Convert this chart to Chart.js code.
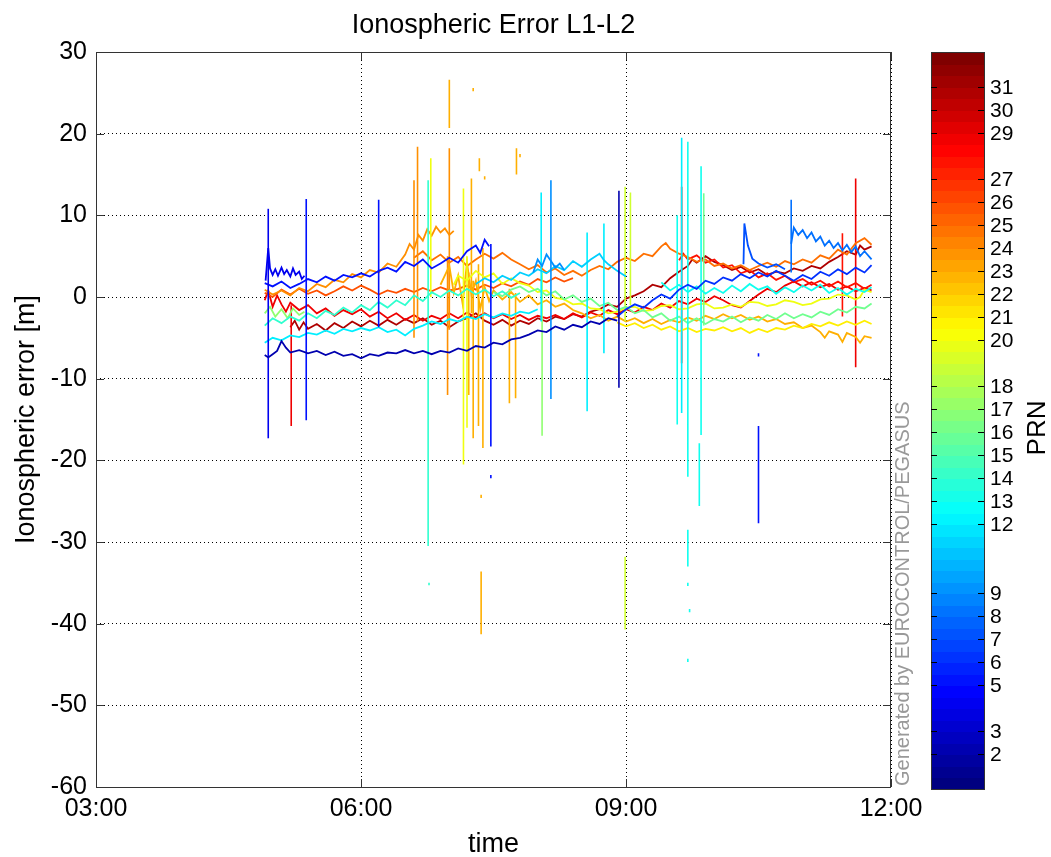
<!DOCTYPE html>
<html>
<head>
<meta charset="utf-8">
<script src="https://cdn.jsdelivr.net/npm/chart.js@4.4.1/dist/chart.umd.min.js"></script>
<style>
html, body { margin: 0; padding: 0; background: #fff; }
</style>
</head>
<body>
<canvas id="myChart" width="1051" height="857"></canvas>
<script>

// time axis in hours (03:00 .. 12:00), values in metres
const xTicks = [3, 6, 9, 12];
const yTicks = [30, 20, 10, 0, -10, -20, -30, -40, -50, -60];
const cbTicks = [2, 3, 5, 6, 7, 8, 9, 12, 13, 14, 15, 16, 17, 18, 20, 21, 22, 23, 24, 25, 26, 27, 29, 30, 31];

// tracks: time, value, time, value ...
const prn02 = [4.91,-7.1, 4.95,-7.4, 5.0,-7.0, 5.05,-6.6, 5.1,-5.4, 5.15,-6.2, 5.2,-6.8, 5.3,-6.5, 5.4,-6.9, 5.5,-6.6, 5.6,-7.1, 5.7,-6.7, 5.8,-7.2, 5.9,-7.0, 6.0,-7.5, 6.1,-7.0, 6.2,-7.2, 6.3,-6.8, 6.4,-6.9, 6.5,-6.5, 6.6,-6.9, 6.7,-6.6, 6.8,-7.0, 6.9,-6.6, 7.0,-6.8, 7.1,-6.3, 7.2,-6.6, 7.3,-6.0, 7.4,-6.2, 7.5,-5.6, 7.6,-5.8, 7.7,-5.2, 7.8,-5.0, 7.9,-4.6, 8.0,-4.1, 8.1,-4.3, 8.2,-3.6, 8.3,-4.0, 8.4,-3.4, 8.5,-3.7, 8.6,-3.0, 8.7,-3.3, 8.8,-2.6, 8.9,-2.9];
const prn04 = [4.92,2.0, 4.95,6.0, 4.97,3.5, 5.0,2.7, 5.03,3.4, 5.06,2.6, 5.1,3.6, 5.13,2.8, 5.16,3.3, 5.2,2.5, 5.23,3.5, 5.26,2.7, 5.3,3.1, 5.33,2.2, 5.36,2.6];
const prn05 = [4.91,1.7, 5.0,1.3, 5.1,1.9, 5.2,1.1, 5.3,1.6, 5.4,2.2, 5.5,1.8, 5.6,2.5, 5.7,2.0, 5.8,2.7, 5.9,2.4, 6.0,2.9, 6.1,2.5, 6.2,3.2, 6.3,3.6, 6.4,3.1, 6.5,4.3, 6.6,3.8, 6.7,4.6, 6.8,3.5, 6.9,4.1, 7.0,4.8, 7.1,4.2, 7.2,5.6, 7.3,6.3, 7.35,5.4, 7.4,7.0, 7.45,6.2];
const prn06 = [8.9,-2.4, 9.0,-1.5, 9.1,-0.9, 9.2,-1.3, 9.3,-0.4, 9.4,0.3, 9.5,-0.2, 9.6,0.9, 9.7,1.5, 9.8,1.0, 9.9,2.0, 10.0,1.6, 10.1,2.4, 10.2,2.0, 10.3,2.8, 10.4,2.3, 10.5,3.0, 10.6,2.5, 10.7,3.2, 10.8,2.6, 10.9,2.0, 11.0,2.7, 11.1,2.2, 11.2,3.1, 11.3,2.6, 11.4,3.4, 11.5,2.8, 11.6,3.6, 11.7,3.0, 11.78,3.9];
const prn07 = [10.33,4.0, 10.34,9.0, 10.38,6.3, 10.43,4.7, 10.5,4.1, 10.6,3.6, 10.7,4.0, 10.8,3.4];
const prn08 = [10.87,6.5, 10.9,8.5, 10.95,7.6, 11.0,8.2, 11.05,7.2, 11.1,7.9, 11.15,6.8, 11.2,7.4, 11.25,6.3, 11.3,6.9, 11.35,6.0, 11.4,6.6, 11.45,5.7, 11.5,6.4, 11.55,5.5, 11.6,6.2, 11.65,5.0, 11.7,5.6, 11.78,4.6];
const prn09 = [7.95,3.0, 8.0,4.6, 8.05,3.8, 8.1,5.2, 8.15,4.4, 8.2,3.6, 8.25,4.1, 8.3,3.3];
const prn11 = [7.3,1.6, 7.4,2.3, 7.5,1.8, 7.6,2.6, 7.7,2.1, 7.8,3.0, 7.9,2.6, 8.0,3.4, 8.1,2.9, 8.2,3.8, 8.3,3.3, 8.4,4.4, 8.5,3.7, 8.6,4.6, 8.7,5.3, 8.75,4.5, 8.8,4.0, 8.9,3.2, 9.0,2.5];
const prn12 = [4.91,-5.6, 5.0,-5.0, 5.1,-5.3, 5.2,-4.7, 5.3,-4.9, 5.4,-4.4, 5.5,-4.6, 5.6,-4.1, 5.7,-4.5, 5.8,-3.9, 5.9,-4.2, 6.0,-3.8, 6.1,-4.1, 6.2,-3.7, 6.3,-4.3, 6.4,-4.0, 6.5,-4.7, 6.6,-3.9, 6.7,-3.5, 6.8,-3.0, 6.9,-3.3, 7.0,-2.7, 7.1,-3.0, 7.2,-2.4, 7.3,-2.7, 7.4,-2.1, 7.5,-2.5, 7.6,-2.0, 7.7,-2.3, 7.8,-1.8, 7.9,-2.0, 8.0,-1.5];
const prn13 = [9.4,1.8, 9.5,0.8, 9.6,1.5, 9.7,0.6, 9.8,1.3, 9.9,0.4, 10.0,1.1, 10.1,0.5, 10.2,1.4, 10.3,0.7, 10.4,1.6, 10.5,0.9, 10.6,1.3, 10.7,0.4, 10.8,1.2, 10.9,0.6, 11.0,1.4, 11.1,0.8, 11.2,1.5, 11.3,0.5, 11.4,1.1, 11.5,0.3, 11.6,1.0, 11.7,0.6, 11.78,1.2];
const prn14 = [4.91,-3.5, 5.0,-2.6, 5.1,-3.2, 5.2,-2.4, 5.3,-2.9, 5.4,-2.0, 5.5,-2.6, 5.6,-1.7, 5.7,-2.2, 5.8,-1.3, 5.9,-1.9, 6.0,-1.0, 6.1,-1.6, 6.2,-0.6, 6.3,-1.3, 6.4,-0.4, 6.5,-1.0, 6.6,0.2, 6.7,-0.5, 6.8,0.6, 6.9,0.0, 7.0,0.8, 7.1,0.2, 7.2,1.0, 7.3,0.3, 7.4,0.9, 7.5,0.1, 7.6,0.7, 7.7,-0.1, 7.8,0.5];
const prn16 = [7.5,0.6, 7.6,0.1, 7.7,0.9, 7.8,1.3, 7.9,0.6, 8.0,1.0, 8.1,0.2, 8.2,0.7, 8.3,-0.3, 8.4,0.2, 8.5,-0.6, 8.6,-0.2, 8.7,-1.1, 8.8,-0.7, 8.9,-1.6, 9.0,-1.2, 9.1,-2.0, 9.2,-1.6, 9.3,-2.5, 9.4,-2.0, 9.5,-2.9, 9.6,-2.4, 9.7,-3.2, 9.8,-2.6, 9.9,-3.3, 10.0,-2.7, 10.1,-3.0, 10.2,-2.4, 10.3,-3.1, 10.4,-2.5, 10.5,-2.9, 10.6,-2.2, 10.7,-2.7, 10.8,-2.0, 10.9,-2.6, 11.0,-2.1, 11.1,-2.5, 11.2,-1.8, 11.3,-2.2, 11.4,-1.5, 11.5,-1.9, 11.6,-1.2, 11.7,-1.4, 11.78,-0.8];
const prn17 = [4.91,-2.0, 4.97,-1.2, 5.03,-2.4, 5.1,-1.5, 5.17,-2.6, 5.23,-1.4, 5.3,-2.2, 5.36,-1.8];
const prn20 = [7.05,1.5, 7.1,2.6, 7.2,2.0, 7.3,3.2, 7.4,2.4, 7.5,2.9, 7.6,1.6, 7.7,2.3, 7.8,1.7, 7.9,1.4, 8.0,0.6, 8.1,0.8, 8.2,-0.1, 8.3,-0.3, 8.4,-0.9, 8.5,-0.8, 8.6,-1.4, 8.7,-1.5, 8.8,-2.0, 8.9,-1.8, 9.0,-1.3, 9.1,-1.2, 9.2,-1.7, 9.3,-1.6, 9.4,-1.1, 9.5,-1.0, 9.6,-1.5, 9.7,-1.4, 9.8,-0.9, 9.9,-0.8, 10.0,-1.4, 10.1,-1.3, 10.2,-0.9, 10.3,-1.2, 10.4,-0.6, 10.5,-0.7, 10.6,-1.1, 10.7,-0.9, 10.8,-0.4, 10.9,-0.6, 11.0,-1.0, 11.1,-0.8, 11.2,-0.3, 11.3,-0.2, 11.4,0.3, 11.5,0.2, 11.6,-0.3, 11.65,0.0, 11.7,0.9, 11.78,0.6];
const prn21 = [8.9,-3.1, 9.0,-3.6, 9.1,-3.2, 9.2,-3.8, 9.3,-3.4, 9.4,-4.0, 9.5,-3.6, 9.6,-4.2, 9.7,-3.8, 9.8,-4.3, 9.9,-3.9, 10.0,-4.1, 10.1,-3.7, 10.2,-4.2, 10.3,-3.8, 10.4,-4.4, 10.5,-3.9, 10.6,-4.3, 10.7,-3.8, 10.8,-4.0, 10.9,-3.5, 11.0,-3.8, 11.1,-3.3, 11.2,-3.6, 11.3,-3.1, 11.4,-3.5, 11.5,-3.0, 11.6,-3.4, 11.7,-2.9, 11.78,-3.3];
const prn23 = [6.9,1.5, 7.0,3.8, 7.05,0.5, 7.1,2.6, 7.15,-0.8, 7.2,4.2, 7.25,0.3, 7.3,2.0, 7.35,-1.5, 7.4,1.2, 7.45,-0.5, 7.5,0.8, 7.6,-0.3, 7.7,0.6, 7.8,-0.6, 7.9,0.2, 8.0,-0.9, 8.1,-0.4, 8.2,-1.2, 8.3,-0.8, 8.4,-1.6, 8.5,-2.0, 8.6,-2.6, 8.7,-2.2, 8.8,-2.9, 8.9,-2.4, 9.0,-3.0, 9.1,-2.6, 9.2,-3.2, 9.3,-2.7, 9.4,-3.3, 9.5,-2.8, 9.6,-3.1, 9.7,-2.5, 9.8,-2.9, 9.9,-2.3, 10.0,-2.7, 10.1,-2.1, 10.2,-2.6, 10.3,-2.2, 10.4,-2.8, 10.5,-2.4, 10.6,-3.0, 10.7,-2.7, 10.8,-3.3, 10.9,-3.1, 11.0,-3.8, 11.1,-3.5, 11.2,-4.3, 11.25,-5.0, 11.3,-4.2, 11.4,-4.6, 11.45,-5.5, 11.5,-4.4, 11.6,-4.9, 11.65,-5.6, 11.7,-4.8, 11.78,-5.0];
const prn24 = [4.91,0.9, 5.0,0.3, 5.1,0.8, 5.2,0.2, 5.3,1.1, 5.4,0.7, 5.5,1.6, 5.6,1.2, 5.7,2.1, 5.8,1.8, 5.9,2.8, 6.0,2.4, 6.1,3.3, 6.2,3.0, 6.3,4.1, 6.4,3.7, 6.5,5.2, 6.55,6.5, 6.6,5.8, 6.65,7.6, 6.7,6.9, 6.75,8.3, 6.8,7.5, 6.85,8.6, 6.9,7.9, 6.95,8.4, 7.0,7.6, 7.05,8.1];
const prn25 = [6.6,4.8, 6.7,5.6, 6.8,4.5, 6.9,5.2, 7.0,4.2, 7.1,4.9, 7.2,3.8, 7.3,4.6, 7.4,5.3, 7.5,4.7, 7.6,5.4, 7.7,4.6, 7.8,4.0, 7.9,3.4, 8.0,3.9, 8.1,3.0, 8.2,3.5, 8.3,2.7, 8.4,3.2, 8.5,2.6, 8.6,3.3, 8.7,3.8, 8.8,3.4, 8.9,4.3, 9.0,4.8, 9.1,4.4, 9.2,5.3, 9.3,5.0, 9.4,6.2, 9.45,6.6, 9.5,5.9, 9.6,5.3, 9.7,4.9, 9.8,4.3, 9.9,4.6, 10.0,3.8, 10.1,4.1, 10.2,3.5, 10.3,3.9, 10.4,3.3, 10.5,3.8, 10.6,4.2, 10.7,3.7, 10.8,4.4, 10.9,4.0, 11.0,4.6, 11.1,4.2, 11.2,5.1, 11.3,4.7, 11.4,5.8, 11.5,5.2, 11.6,6.6, 11.7,7.2, 11.78,6.4];
const prn26 = [4.91,0.5, 5.0,0.0, 5.1,0.9, 5.2,0.3, 5.3,1.0, 5.4,0.4, 5.5,0.8, 5.6,0.2, 5.7,0.7, 5.8,1.3, 5.9,0.8, 6.0,1.4, 6.1,0.9, 6.2,0.3, 6.3,0.8, 6.4,0.5, 6.5,1.0, 6.6,0.6, 6.7,1.1, 6.8,0.7, 6.9,1.2, 7.0,0.8, 7.1,1.0, 7.2,1.4, 7.3,0.9, 7.4,1.5, 7.5,1.1, 7.6,1.7, 7.7,1.3, 7.8,1.9, 7.9,1.5, 8.0,2.2, 8.1,1.8, 8.2,2.4, 8.3,1.9, 8.4,2.3];
const prn28 = [9.6,4.5, 9.65,5.3, 9.7,4.6, 9.8,5.1, 9.9,4.2, 10.0,4.6, 10.1,3.6, 10.2,3.9, 10.3,2.9, 10.4,3.3, 10.5,2.4, 10.6,2.9, 10.7,2.1, 10.8,2.6, 10.9,1.8, 11.0,2.2, 11.1,1.5, 11.2,2.0, 11.3,1.3, 11.4,1.9, 11.5,1.2, 11.6,1.7, 11.7,1.0, 11.78,1.5];
const prn29 = [4.91,-0.4, 4.95,0.8, 5.0,-1.2, 5.05,0.2, 5.1,-0.9, 5.15,-1.8, 5.2,-0.7, 5.3,-1.6, 5.4,-1.0, 5.5,-2.0, 5.6,-1.4, 5.7,-2.3, 5.8,-1.6, 5.9,-2.1, 6.0,-1.5, 6.1,-2.4, 6.2,-1.8, 6.3,-2.6, 6.4,-2.0, 6.5,-2.8, 6.6,-2.2, 6.7,-2.9, 6.8,-2.3, 6.9,-2.7, 7.0,-2.0, 7.1,-2.6, 7.2,-1.9, 7.3,-2.5, 7.4,-2.0, 7.5,-2.6, 7.6,-2.1, 7.7,-2.7, 7.8,-2.2, 7.9,-2.8, 8.0,-2.3, 8.1,-2.6, 8.2,-2.2, 8.3,-2.7, 8.4,-2.0, 8.5,-2.5, 8.6,-1.9, 8.7,-2.3, 8.8,-1.6, 8.9,-2.1, 9.0,-1.5, 9.1,-1.9, 9.2,-1.2, 9.3,-1.6, 9.4,-0.8, 9.5,-1.3, 9.6,-0.5, 9.7,-0.9, 9.8,-0.2, 9.9,-0.6, 10.0,0.1, 10.1,-0.4, 10.2,-1.0, 10.3,-1.3, 10.4,-0.5, 10.5,0.3, 10.6,1.0, 10.7,0.6, 10.8,1.4, 10.9,1.9, 11.0,1.3, 11.1,1.8, 11.2,1.2, 11.3,1.6, 11.4,0.9, 11.5,1.3, 11.6,0.7, 11.7,1.1, 11.78,0.8];
const prn31 = [5.2,-3.7, 5.25,-2.9, 5.3,-4.0, 5.35,-3.1, 5.4,-3.9, 5.5,-3.3, 5.6,-4.1, 5.7,-3.2, 5.8,-3.8, 5.9,-3.0, 6.0,-3.6, 6.1,-2.9, 6.2,-3.5, 6.3,-2.8, 6.4,-3.4, 6.5,-2.7, 6.6,-3.2, 6.7,-2.6, 6.8,-3.4, 6.9,-2.9, 7.0,-3.7, 7.1,-3.0, 7.2,-2.6, 7.3,-2.0, 7.4,-2.9, 7.5,-3.4, 7.6,-2.8, 7.7,-3.5, 7.8,-2.9, 7.9,-3.3, 8.0,-2.6, 8.1,-3.0, 8.2,-2.4, 8.3,-2.7, 8.4,-2.1, 8.5,-2.4, 8.6,-1.8, 8.7,-1.5, 8.8,-0.9, 8.9,-1.2, 9.0,-0.2, 9.1,0.2, 9.2,0.7, 9.3,1.5, 9.4,1.2, 9.5,2.3, 9.6,3.1, 9.7,3.8, 9.75,4.6, 9.8,4.2, 9.9,5.0, 10.0,4.3, 10.1,3.9, 10.2,3.3, 10.3,3.7, 10.4,3.0, 10.5,3.4, 10.6,2.7, 10.7,3.1, 10.8,2.9, 10.9,3.5, 11.0,3.2, 11.1,3.8, 11.2,3.5, 11.3,4.3, 11.4,4.9, 11.5,5.6, 11.6,5.2, 11.65,6.3, 11.7,5.8, 11.78,6.2];

// spikes: time, low, high ...
const spikes02 = [8.92,-11.1,13.0];
const spikes04 = [4.95,-17.3,10.8];
const spikes05 = [5.38,-15.1,12.0, 6.2,-3.7,11.9, 7.47,-18.3,6.5, 7.47,-22.2,-21.8, 10.5,-27.7,-15.8, 10.5,-7.3,-6.9];
const spikes08 = [10.87,3.0,11.9];
const spikes09 = [8.15,-12.5,14.3];
const spikes12 = [8.04,-3.0,12.8, 8.56,-14.0,7.9, 8.75,-6.9,9.0, 9.63,-14.2,19.5];
const spikes13 = [9.58,-15.6,10.0, 9.7,-22.0,19.0, 9.7,-33.0,-28.5, 9.7,-35.4,-35.0, 9.7,-44.7,-44.3, 9.72,-38.6,-38.2, 9.83,-25.6,-17.9, 9.85,-16.9,16.0];
const spikes14 = [6.76,-30.5,14.3, 6.77,-35.3,-35.0];
const spikes16 = [9.88,-3.5,12.7];
const spikes17 = [8.05,-17.0,3.0];
const spikes19 = [8.99,-40.7,-31.8, 8.99,-3.0,13.5, 9.05,-1.0,12.8];
const spikes20 = [6.79,0.0,17.0, 7.16,-20.5,13.3, 7.2,-16.0,5.0];
const spikes23 = [7.0,20.7,26.6, 7.25,-2.0,14.5, 7.34,15.4,17.0, 7.27,25.2,25.6, 7.4,14.4,14.8, 7.76,15.0,18.2, 7.8,17.1,17.5, 7.22,-12.0,3.0, 7.27,-17.3,2.0, 7.33,-15.8,4.0, 7.38,-18.5,6.0, 7.36,-41.3,-33.6, 7.36,-24.6,-24.2, 7.68,-13.0,1.0, 7.75,-12.4,0.5];
const spikes24 = [6.6,-5.0,14.3, 6.64,-3.0,18.4, 7.0,-4.0,18.2, 6.98,-12.0,5.0];
const spikes28 = [9.63,-8.1,13.5, 11.45,-2.4,7.8];
const spikes29 = [5.21,-15.8,-1.0, 11.6,-8.6,14.5];

const tracks = [
    [2, prn02, spikes02], [4, prn04, spikes04], [5, prn05, spikes05], [6, prn06, []],
    [7, prn07, []], [8, prn08, spikes08], [9, prn09, spikes09], [11, prn11, []],
    [12, prn12, spikes12], [13, prn13, spikes13], [14, prn14, spikes14], [16, prn16, spikes16],
    [17, prn17, spikes17], [19, [], spikes19], [20, prn20, spikes20], [21, prn21, []],
    [23, prn23, spikes23], [24, prn24, spikes24], [25, prn25, []], [26, prn26, []],
    [28, prn28, spikes28], [29, prn29, spikes29], [31, prn31, []]
];

function clamp(v) { return Math.max(0, Math.min(1, v)); }

function jet(v) {
    let r = clamp(1.5 - Math.abs(4 * v - 3));
    let g = clamp(1.5 - Math.abs(4 * v - 2));
    let b = clamp(1.5 - Math.abs(4 * v - 1));
    return 'rgb(' + Math.round(r * 255) + ',' + Math.round(g * 255) + ',' + Math.round(b * 255) + ')';
}

function prnColor(prn) {
    return jet((prn - 0.5) / 32);
}

function pairs(a) {
    let out = [];
    for (let i = 0; i < a.length; i += 2) out.push({ x: a[i], y: a[i + 1] });
    return out;
}

function segs(a) {
    let out = [];
    for (let i = 0; i < a.length; i += 3) {
        out.push({ x: a[i], y: a[i + 1] }, { x: a[i], y: a[i + 2] }, { x: a[i], y: null });
    }
    return out;
}

let datasets = [];
tracks.forEach(function (t) {
    let col = prnColor(t[0]);
    if (t[2].length) {
        datasets.push({ data: segs(t[2]), borderColor: col, borderWidth: 1.6, pointRadius: 0, spanGaps: false });
    }
    if (t[1].length) {
        datasets.push({ data: pairs(t[1]), borderColor: col, borderWidth: 1.8, pointRadius: 0, spanGaps: false });
    }
});

const FONT = "'Liberation Sans', Arial, sans-serif";

// plot box: x 96..891, y 52..787
const extras = {
    id: 'extras',
    afterDraw(chart) {
        const ctx = chart.ctx;
        const a = chart.chartArea;
        const xs = chart.scales.x, ys = chart.scales.y;
        ctx.save();

        // box and inward ticks
        ctx.strokeStyle = '#333';
        ctx.lineWidth = 1;
        ctx.strokeRect(a.left + 0.5, a.top + 0.5, a.right - a.left - 1, a.bottom - a.top);
        ctx.beginPath();
        xTicks.forEach(function (v) {
            let px = Math.round(xs.getPixelForValue(v)) + 0.5;
            ctx.moveTo(px, a.bottom); ctx.lineTo(px, a.bottom - 8);
            ctx.moveTo(px, a.top); ctx.lineTo(px, a.top + 8);
        });
        yTicks.forEach(function (v) {
            let py = Math.round(ys.getPixelForValue(v)) + 0.5;
            ctx.moveTo(a.left, py); ctx.lineTo(a.left + 8, py);
            ctx.moveTo(a.right, py); ctx.lineTo(a.right - 8, py);
        });
        ctx.stroke();

        // title and axis labels
        ctx.fillStyle = '#000';
        ctx.textAlign = 'center';
        ctx.textBaseline = 'alphabetic';
        ctx.font = '27px ' + FONT;
        ctx.fillText('Ionospheric Error L1-L2', (a.left + a.right) / 2, 33);
        ctx.fillText('time', (a.left + a.right) / 2, 852);
        ctx.save();
        ctx.translate(27, (a.top + a.bottom) / 2);
        ctx.rotate(-Math.PI / 2);
        ctx.textBaseline = 'middle';
        ctx.fillText('Ionospheric error [m]', 0, 0);
        ctx.restore();

        // generated-by note
        ctx.save();
        ctx.translate(903, a.bottom - 1);
        ctx.rotate(-Math.PI / 2);
        ctx.fillStyle = '#999';
        ctx.font = '20px ' + FONT;
        ctx.textAlign = 'left';
        ctx.textBaseline = 'middle';
        ctx.fillText('Generated by EUROCONTROL/PEGASUS', 0, 0);
        ctx.restore();

        // colorbar
        const cbL = 931, cbR = 984, cbT = 52, cbB = 789;
        const n = 64;
        for (let i = 0; i < n; i++) {
            let y0 = cbB - (i + 1) * (cbB - cbT) / n;
            ctx.fillStyle = jet(i / (n - 1));
            ctx.fillRect(cbL, Math.floor(y0), cbR - cbL, Math.ceil((cbB - cbT) / n) + 1);
        }
        ctx.strokeStyle = '#333';
        ctx.strokeRect(cbL + 0.5, cbT + 0.5, cbR - cbL, cbB - cbT);
        ctx.beginPath();
        ctx.fillStyle = '#000';
        ctx.font = '21px ' + FONT;
        ctx.textAlign = 'left';
        ctx.textBaseline = 'middle';
        cbTicks.forEach(function (k) {
            let py = Math.round(cbB - (k - 0.5) * (cbB - cbT) / 32) + 0.5;
            ctx.moveTo(cbL, py); ctx.lineTo(cbL + 6, py);
            ctx.moveTo(cbR, py); ctx.lineTo(cbR - 6, py);
            ctx.fillText(String(k), 990, py + 1);
        });
        ctx.strokeStyle = '#000';
        ctx.stroke();

        ctx.save();
        ctx.translate(1038, 428);
        ctx.rotate(-Math.PI / 2);
        ctx.font = '26px ' + FONT;
        ctx.textAlign = 'center';
        ctx.textBaseline = 'middle';
        ctx.fillText('PRN', 0, 0);
        ctx.restore();

        ctx.restore();
    }
};

const ctx = document.getElementById('myChart').getContext('2d');
const myChart = new Chart(ctx, {
    type: 'line',
    data: { datasets: datasets },
    options: {
        responsive: false,
        animation: false,
        layout: { padding: { left: 0, top: 52, right: 160, bottom: 0 } },
        plugins: { legend: { display: false }, tooltip: { enabled: false } },
        scales: {
            x: {
                type: 'linear',
                min: 3,
                max: 12,
                afterFit: function (s) { s.height = 70; },
                afterBuildTicks: function (s) { s.ticks = xTicks.map(function (v) { return { value: v }; }); },
                grid: { color: '#000', lineWidth: 1, drawTicks: false },
                border: { display: false, dash: [1, 3] },
                ticks: {
                    padding: 7,
                    color: '#000',
                    font: { family: FONT, size: 25 },
                    maxRotation: 0,
                    callback: function (v) { return (v < 10 ? '0' : '') + v + ':00'; }
                }
            },
            y: {
                min: -60,
                max: 30,
                afterFit: function (s) { s.width = 96; },
                afterBuildTicks: function (s) { s.ticks = yTicks.map(function (v) { return { value: v }; }); },
                grid: { color: '#000', lineWidth: 1, drawTicks: false },
                border: { display: false, dash: [1, 3] },
                ticks: {
                    padding: 9,
                    color: '#000',
                    font: { family: FONT, size: 25 }
                }
            }
        }
    },
    plugins: [extras]
});
</script>
</body>
</html>
